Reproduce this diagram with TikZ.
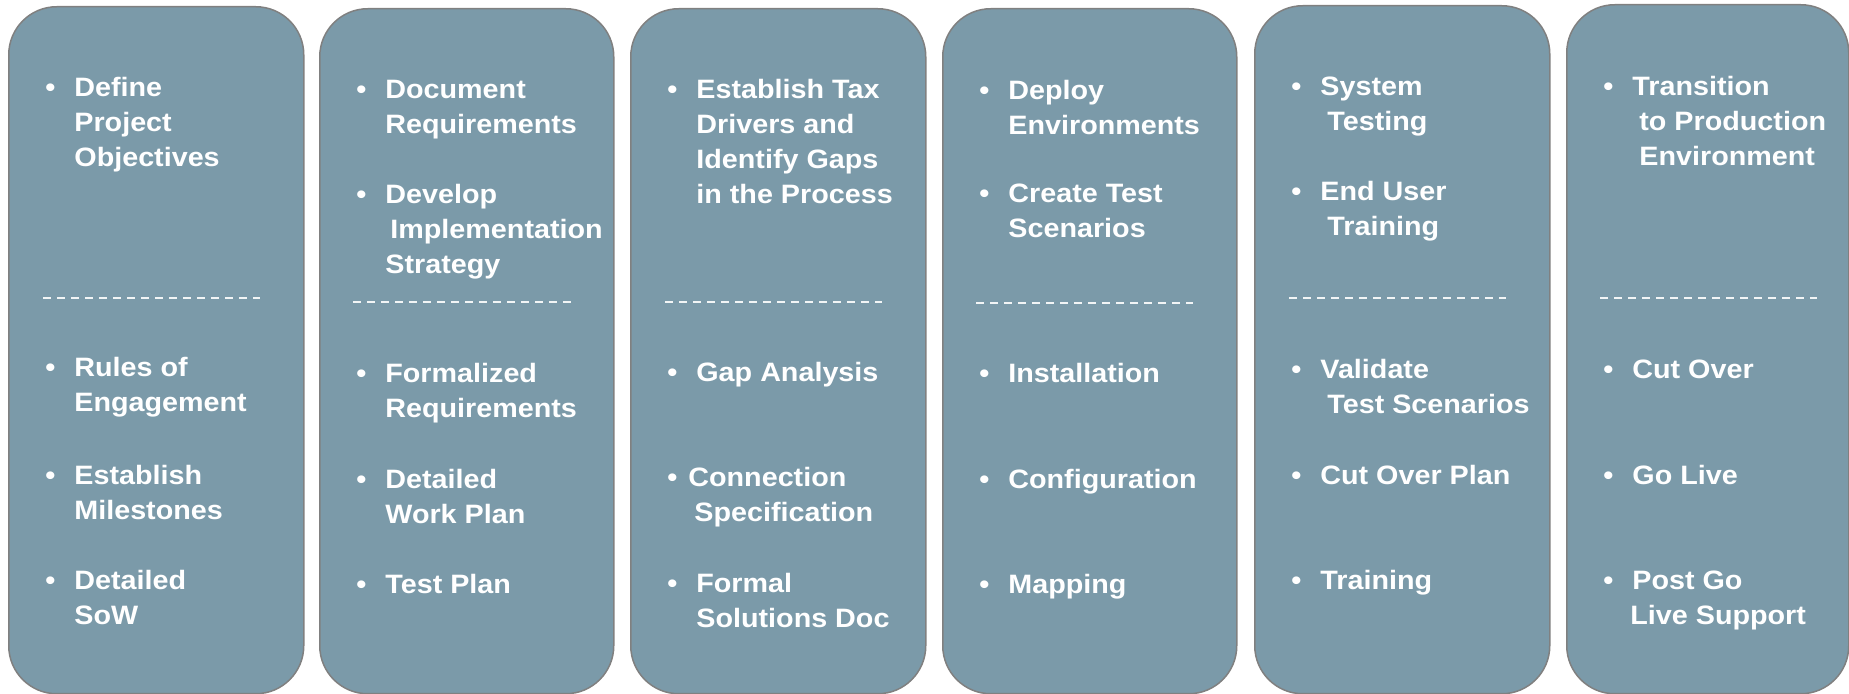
\documentclass[tikz,border=0pt]{standalone}
\usepackage{fontspec}
\setmainfont{Liberation Sans}[FakeStretch=1.08]
\definecolor{phasefill}{RGB}{123,154,169}
\definecolor{phaseline}{RGB}{128,128,128}
\tikzset{
  phase/.style={draw=phaseline, line width=0.75pt, fill=phasefill, rounded corners=24pt,
    inner sep=0pt, anchor=north west},
  itemtxt/.style={anchor=base west, inner sep=0pt, text=white,
    font=\bfseries\fontsize{13.3}{17.5}\selectfont},
  divider/.style={draw=white!90!phasefill, line width=1.1pt, dash pattern=on 4pt off 3pt}
}
\newcommand{\phaseitem}[4]{%
  \node[itemtxt] (#1) at (#2) {\makebox[14.5pt][l]{•}\begin{tabular}[t]{@{}l@{}}#4\end{tabular}};}

\begin{document}
\begin{tikzpicture}[x=0.5pt,y=-0.5pt]
  \useasboundingbox (0,0) rectangle (1849,694);
  % phases
  \node[phase, minimum width=147.5pt, minimum height=343.5pt] (ph1) at (8,6) {};
  \node[phase, minimum width=147pt, minimum height=342.5pt] (ph2) at (319,8) {};
  \node[phase, minimum width=147.5pt, minimum height=342.5pt] (ph3) at (630,8) {};
  \node[phase, minimum width=147pt, minimum height=342.5pt] (ph4) at (942,8) {};
  \node[phase, minimum width=147.5pt, minimum height=344pt] (ph5) at (1254,5) {};
  \node[phase, minimum width=141pt, minimum height=344.5pt] (ph6) at (1566,4) {};
  % activities / deliverables split
  \draw[divider] (43,298) -- (260,298);
  \draw[divider] (353,302) -- (572,302);
  \draw[divider] (665,302) -- (882,302);
  \draw[divider] (976,303) -- (1193,303);
  \draw[divider] (1289,298) -- (1506,298);
  \draw[divider] (1600,298) -- (1817,298);

  \phaseitem{p1a}{45,97}{}{Define\\Project\\Objectives}
  \phaseitem{p1b}{45,377}{}{Rules of\\Engagement}
  \phaseitem{p1c}{45,485}{}{Establish\\Milestones}
  \phaseitem{p1d}{45,590}{}{Detailed\\SoW}

  \phaseitem{p2a}{356,99}{}{Document\\Requirements}
  \phaseitem{p2b}{356,204}{}{Develop\\\hspace*{2.5pt}Implementation\\Strategy}
  \phaseitem{p2c}{356,383}{}{Formalized\\Requirements}
  \phaseitem{p2d}{356,489}{}{Detailed\\Work Plan}
  \phaseitem{p2e}{356,594}{}{Test Plan}

  \phaseitem{p3a}{667,99}{}{Establish Tax\\Drivers and\\Identify Gaps\\in the Process}
  \phaseitem{p3b}{667,382}{}{Gap Analysis}
  \phaseitem{p3c}{667,487}{}{\hspace*{-4pt}Connection\\\hspace*{-1pt}Specification}
  \phaseitem{p3d}{667,593}{}{Formal\\Solutions Doc}

  \phaseitem{p4a}{979,100}{}{Deploy\\Environments}
  \phaseitem{p4b}{979,203}{}{Create Test\\Scenarios}
  \phaseitem{p4c}{979,383}{}{Installation}
  \phaseitem{p4d}{979,489}{}{Configuration}
  \phaseitem{p4e}{979,594}{}{Mapping}

  \phaseitem{p5a}{1291,96}{}{System\\\hspace*{3.5pt}Testing}
  \phaseitem{p5b}{1291,201}{}{End User\\\hspace*{3.5pt}Training}
  \phaseitem{p5c}{1291,379}{}{Validate\\\hspace*{3.5pt}Test Scenarios}
  \phaseitem{p5d}{1291,485}{}{Cut Over Plan}
  \phaseitem{p5e}{1291,590}{}{Training}

  \phaseitem{p6a}{1603,96}{}{Transition\\\hspace*{3.5pt}to Production\\\hspace*{3.5pt}Environment}
  \phaseitem{p6b}{1603,379}{}{Cut Over}
  \phaseitem{p6c}{1603,485}{}{Go Live}
  \phaseitem{p6d}{1603,590}{}{Post Go\\\hspace*{-1pt}Live Support}
\end{tikzpicture}
\end{document}
